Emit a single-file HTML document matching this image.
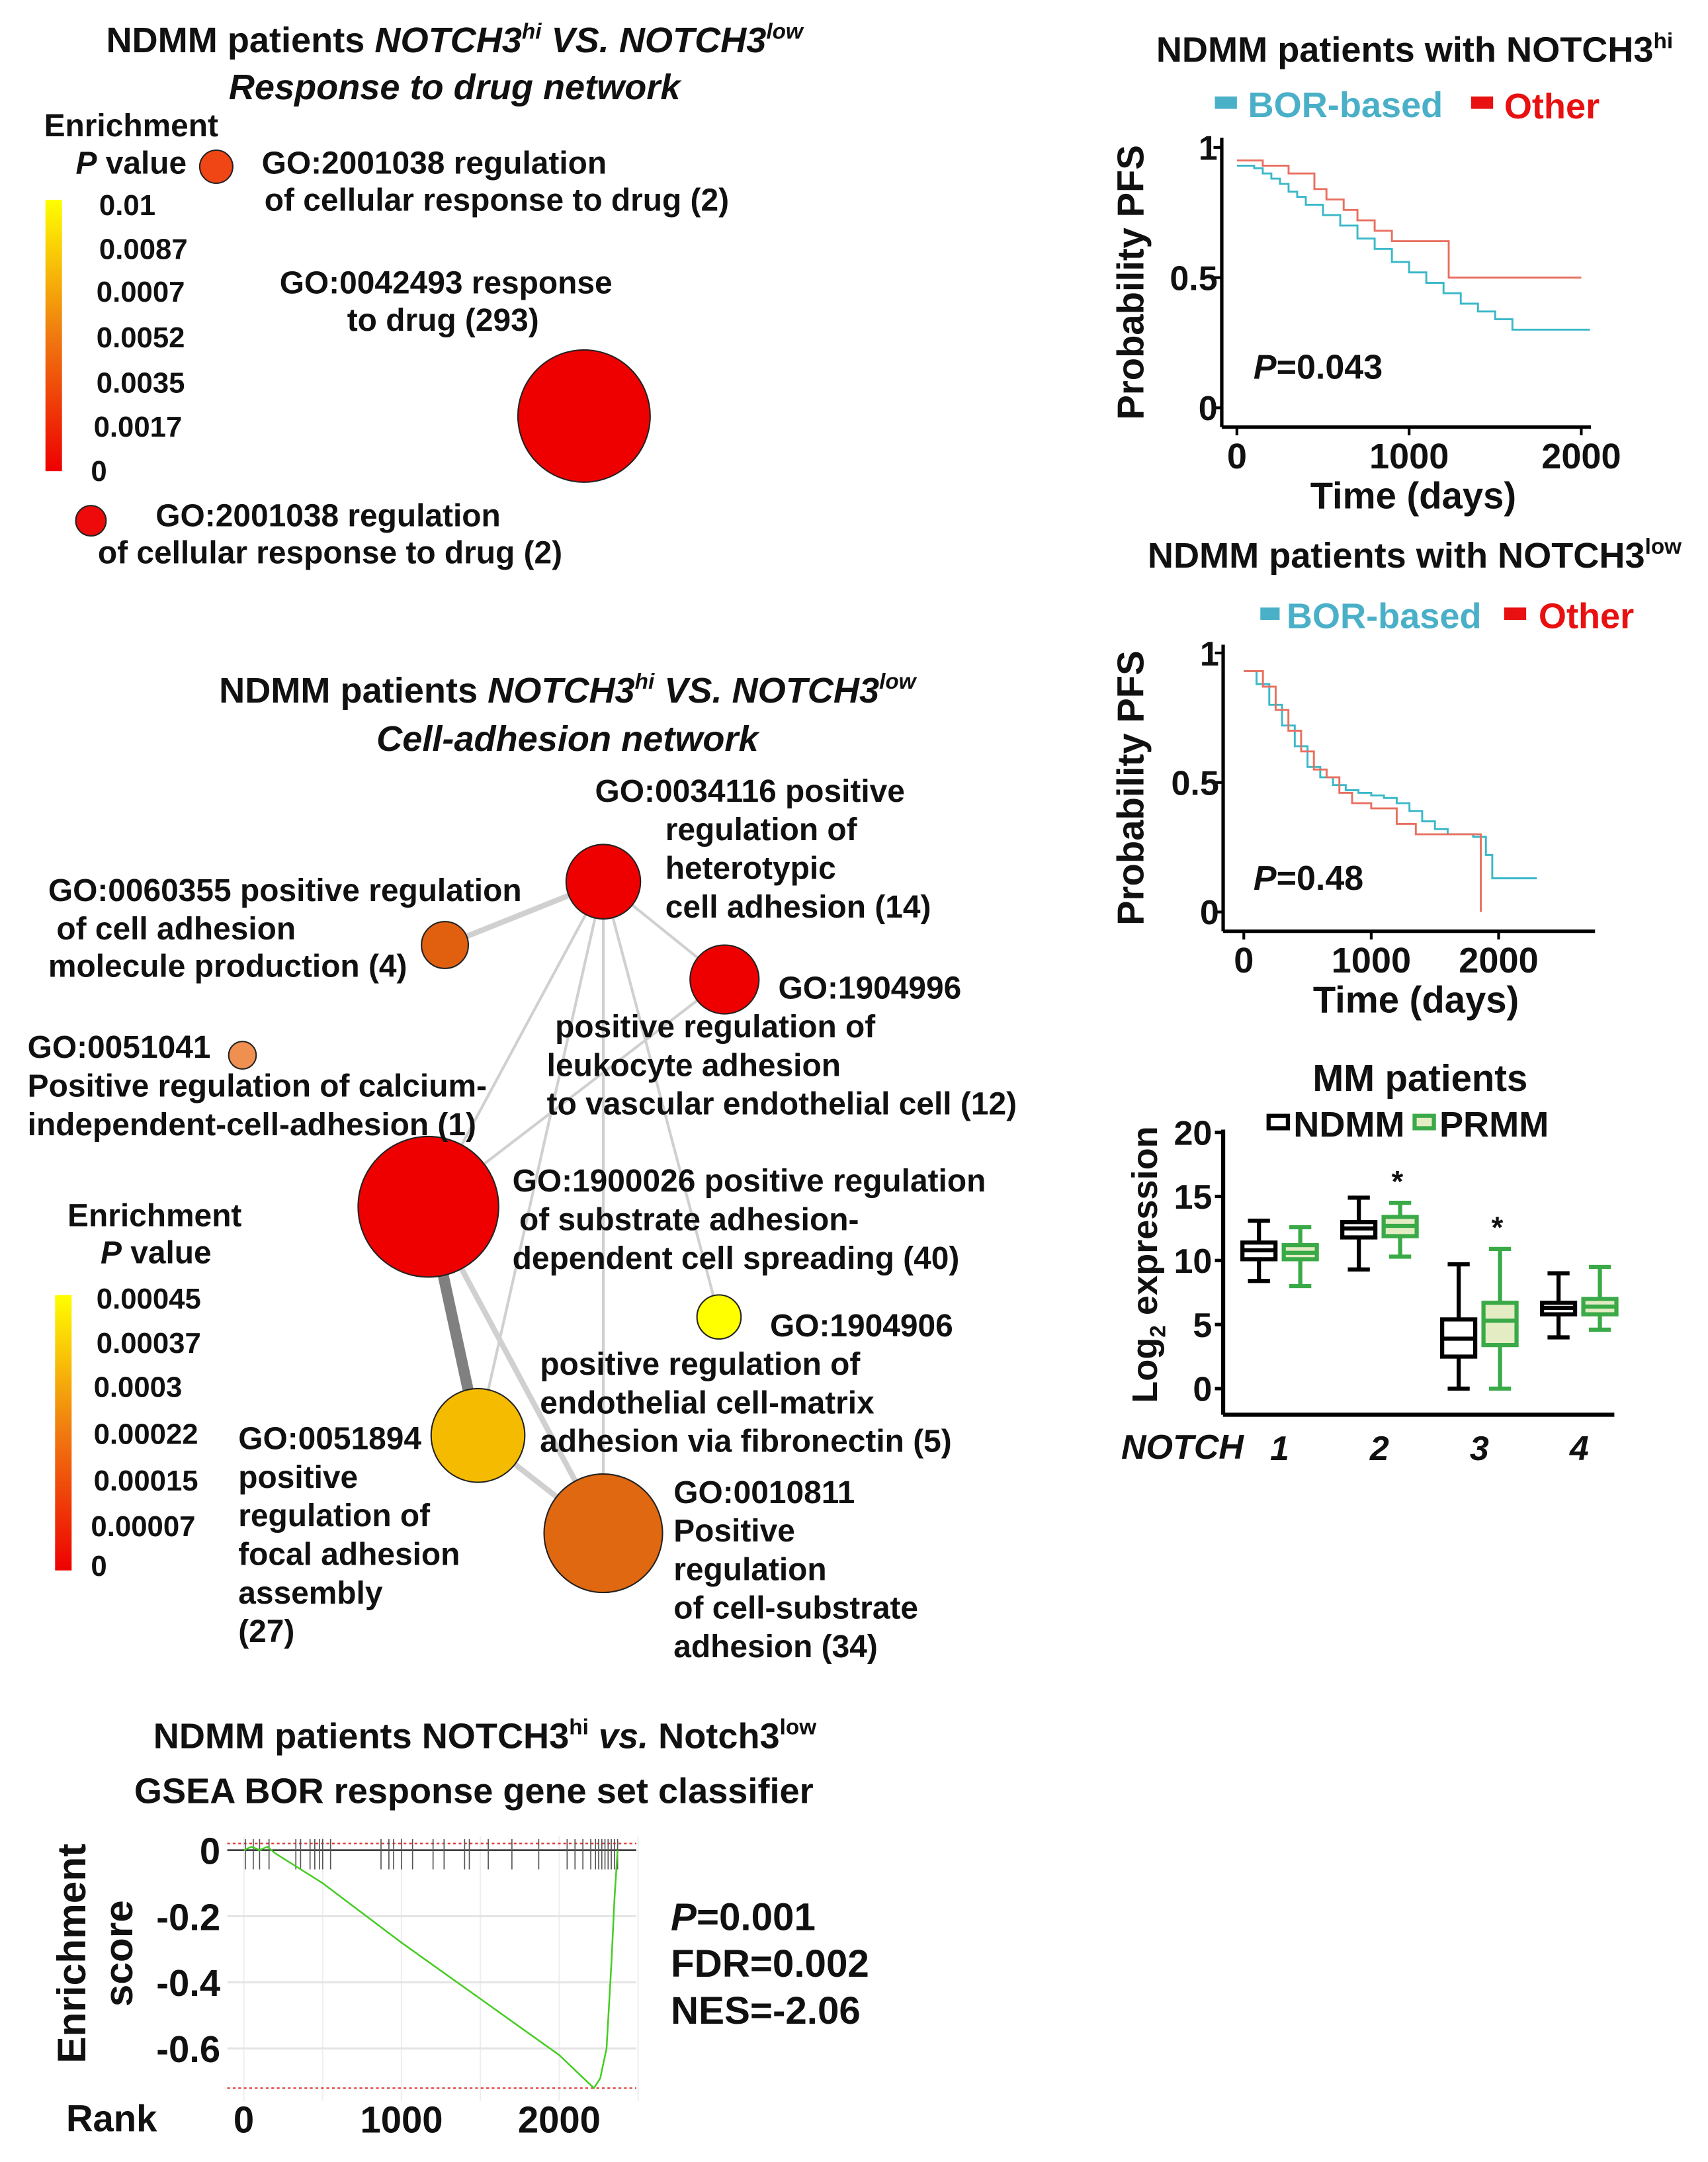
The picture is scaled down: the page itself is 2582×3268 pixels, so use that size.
<!DOCTYPE html>
<html><head><meta charset="utf-8">
<style>
html,body{margin:0;padding:0;background:#fff;}
svg{display:block;}
text{font-family:"Liberation Sans",Arial,sans-serif;font-weight:bold;fill:#111;}
.t{font-size:26px;}
.l{font-size:23px;}
.s{font-size:21px;}
.it{font-style:italic;}
</style></head>
<body>
<svg id="fig" width="2582" height="3268" viewBox="0 0 1240 1569.4" xmlns="http://www.w3.org/2000/svg">
<defs>
<linearGradient id="cb" x1="0" y1="1" x2="0" y2="0">
<stop offset="0" stop-color="#ee0000"/><stop offset="0.5" stop-color="#f07a10"/><stop offset="1" stop-color="#ffff00"/>
</linearGradient>
</defs>

<g>
<text class="t" x="330" y="38" text-anchor="middle">NDMM patients <tspan class="it">NOTCH3</tspan><tspan class="it" font-size="16" dy="-10">hi</tspan><tspan class="it" dy="10"> VS. NOTCH3</tspan><tspan class="it" font-size="16" dy="-10">low</tspan></text>
<text class="t it" x="330" y="72" text-anchor="middle">Response to drug network</text>
<text class="l" x="32" y="99">Enrichment</text>
<text class="l" x="55" y="126"><tspan class="it">P</tspan> value</text>
<rect x="33" y="145" width="12" height="197" fill="url(#cb)"/>
<g class="s">
<text x="72" y="156">0.01</text><text x="72" y="188">0.0087</text><text x="70" y="219">0.0007</text><text x="70" y="252">0.0052</text><text x="70" y="285">0.0035</text><text x="68" y="317">0.0017</text><text x="66" y="349">0</text>
</g>
<circle cx="157" cy="121" r="12" fill="#f04515" stroke="#222"/>
<circle cx="424" cy="302" r="48" fill="#ee0000" stroke="#222"/>
<circle cx="66" cy="378" r="11" fill="#ee0a0a" stroke="#222"/>
<text class="l" x="190" y="126">GO:2001038 regulation</text>
<text class="l" x="192" y="153">of cellular response to drug (2)</text>
<text class="l" x="203" y="213">GO:0042493 response</text>
<text class="l" x="252" y="240">to drug (293)</text>
<text class="l" x="113" y="382">GO:2001038 regulation</text>
<text class="l" x="71" y="409">of cellular response to drug (2)</text>
</g>

<g>
<text class="t" x="412" y="510" text-anchor="middle">NDMM patients <tspan class="it">NOTCH3</tspan><tspan class="it" font-size="16" dy="-10">hi</tspan><tspan class="it" dy="10"> VS. NOTCH3</tspan><tspan class="it" font-size="16" dy="-10">low</tspan></text>
<text class="t it" x="412" y="545" text-anchor="middle">Cell-adhesion network</text>
<g stroke="#d0d0d0" stroke-width="2" fill="none">
<line x1="438" y1="640" x2="323" y2="686" stroke-width="4"/>
<line x1="438" y1="640" x2="526" y2="711"/>
<line x1="438" y1="640" x2="311" y2="876"/>
<line x1="438" y1="640" x2="347" y2="1042"/>
<line x1="438" y1="640" x2="438" y2="1113"/>
<line x1="438" y1="640" x2="522" y2="956"/>
<line x1="526" y1="711" x2="311" y2="876"/>
<line x1="311" y1="876" x2="438" y2="1113" stroke-width="4"/>
<line x1="347" y1="1042" x2="438" y2="1113" stroke-width="4"/>
<line x1="311" y1="876" x2="347" y2="1042" stroke="#808080" stroke-width="8"/>
</g>
<circle cx="438" cy="640" r="27" fill="#ee0000" stroke="#222"/>
<circle cx="323" cy="686" r="17" fill="#e06010" stroke="#222"/>
<circle cx="526" cy="711" r="25" fill="#ee0000" stroke="#222"/>
<circle cx="176" cy="766" r="10" fill="#f09050" stroke="#222"/>
<circle cx="311" cy="876" r="51" fill="#ee0000" stroke="#222"/>
<circle cx="522" cy="956" r="16" fill="#ffff00" stroke="#222"/>
<circle cx="347" cy="1042" r="34" fill="#f5bb00" stroke="#222"/>
<circle cx="438" cy="1113" r="43" fill="#e06810" stroke="#222"/>
<g class="l">
<text x="432" y="582">GO:0034116 positive</text><text x="483" y="610">regulation of</text><text x="483" y="638">heterotypic</text><text x="483" y="666">cell adhesion (14)</text>
<text x="35" y="654">GO:0060355 positive regulation</text><text x="41" y="682">of cell adhesion</text><text x="35" y="709">molecule production (4)</text>
<text x="565" y="725">GO:1904996</text><text x="403" y="753">positive regulation of</text><text x="397" y="781">leukocyte adhesion</text><text x="397" y="809">to vascular endothelial cell (12)</text>
<text x="20" y="768">GO:0051041</text><text x="20" y="796">Positive  regulation of calcium-</text><text x="20" y="824">independent-cell-adhesion (1)</text>
<text x="372" y="865">GO:1900026 positive regulation</text><text x="377" y="893">of substrate adhesion-</text><text x="372" y="921">dependent cell spreading (40)</text>
<text x="559" y="970">GO:1904906</text><text x="392" y="998">positive regulation of</text><text x="392" y="1026">endothelial cell-matrix</text><text x="392" y="1054">adhesion via fibronectin (5)</text>
<text x="173" y="1052">GO:0051894</text><text x="173" y="1080">positive</text><text x="173" y="1108">regulation of</text><text x="173" y="1136">focal adhesion</text><text x="173" y="1164">assembly</text><text x="173" y="1192">(27)</text>
<text x="489" y="1091">GO:0010811</text><text x="489" y="1119">Positive</text><text x="489" y="1147">regulation</text><text x="489" y="1175">of cell-substrate</text><text x="489" y="1203">adhesion (34)</text>
</g>
<text class="l" x="49" y="890">Enrichment</text>
<text class="l" x="73" y="917"><tspan class="it">P</tspan> value</text>
<rect x="40" y="940" width="12" height="200" fill="url(#cb)"/>
<g class="s">
<text x="70" y="950">0.00045</text><text x="70" y="982">0.00037</text><text x="68" y="1014">0.0003</text><text x="68" y="1048">0.00022</text><text x="68" y="1082">0.00015</text><text x="66" y="1115">0.00007</text><text x="66" y="1144">0</text>
</g>
</g>

<g>
<text class="t" x="352" y="1269" text-anchor="middle">NDMM patients NOTCH3<tspan font-size="16" dy="-10">hi</tspan><tspan class="it" dy="10"> vs.</tspan> Notch3<tspan font-size="16" dy="-10">low</tspan></text>
<text class="t" x="344" y="1309" text-anchor="middle">GSEA BOR response gene set classifier</text>
<g id="gsea"></g>
<text transform="translate(62,1418) rotate(-90)" text-anchor="middle" font-size="29">Enrichment</text>
<text transform="translate(96,1418) rotate(-90)" text-anchor="middle" font-size="29">score</text>
<text x="48" y="1547" font-size="27">Rank</text>
<text x="487" y="1401" font-size="28"><tspan class="it">P</tspan>=0.001</text>
<text x="487" y="1435" font-size="28">FDR=0.002</text>
<text x="487" y="1469" font-size="28">NES=-2.06</text>
</g>

<g>
<text class="t" x="1027" y="45" text-anchor="middle">NDMM patients with NOTCH3<tspan font-size="16" dy="-10">hi</tspan></text>
<rect x="882" y="70" width="16" height="9" fill="#4ab0c8"/>
<text class="t" x="906" y="85" style="fill:#4ab0c8">BOR-based</text>
<rect x="1068" y="70" width="16" height="9" fill="#e81010"/>
<text class="t" x="1092" y="86" style="fill:#e81010">Other</text>
<g id="km1"></g>
<text x="910" y="275" font-size="25"><tspan class="it">P</tspan>=0.043</text>
</g>
<g>
<text class="t" x="1027" y="412" text-anchor="middle">NDMM patients with NOTCH3<tspan font-size="16" dy="-10">low</tspan></text>
<rect x="915" y="441" width="14" height="9" fill="#4ab0c8"/>
<text class="t" x="934" y="456" style="fill:#4ab0c8">BOR-based</text>
<rect x="1092" y="441" width="16" height="9" fill="#e81010"/>
<text class="t" x="1117" y="456" style="fill:#e81010">Other</text>
<g id="km2"></g>
<text x="910" y="646" font-size="25"><tspan class="it">P</tspan>=0.48</text>
</g>

<g>
<text x="1031" y="792" text-anchor="middle" font-size="27">MM patients</text>
<rect x="921" y="810" width="14" height="9" fill="#fff" stroke="#000" stroke-width="3"/>
<text x="939" y="825" font-size="26">NDMM</text>
<rect x="1027" y="810" width="14" height="9" fill="#e4ecc4" stroke="#3aaa48" stroke-width="3"/>
<text x="1045" y="825" font-size="26">PRMM</text>
<g id="box"></g>
<text transform="translate(840,918) rotate(-90)" text-anchor="middle" font-size="26">Log<tspan font-size="16" dy="6">2</tspan><tspan dy="-6"> expression</tspan></text>
<text class="it" x="814" y="1059" font-size="25">NOTCH</text>
</g>
</svg>
<script>
const NS='http://www.w3.org/2000/svg';
function mk(p,tag,a,txt){const e=document.createElementNS(NS,tag);for(const k in a)e.setAttribute(k,a[k]);if(txt!==undefined)e.textContent=txt;p.appendChild(e);return e;}

const gseaRank=[0,50,100,150,200,500,1000,1500,2000,2220,2260,2300,2330,2350,2370];
const gseaES=[0,0.01,0,0.01,-0.01,-0.10,-0.28,-0.45,-0.62,-0.72,-0.69,-0.60,-0.35,-0.15,0];
const gseaHits=[10,60,100,160,330,360,420,450,480,500,550,870,920,950,1000,1070,1200,1270,1400,1430,1550,1700,1870,2050,2100,2150,2200,2230,2250,2270,2290,2310,2330,2350,2370];
const gseaYTicks=[0,-0.2,-0.4,-0.6];
const gseaYLabels=['0','-0.2','-0.4','-0.6'];
const gseaXTicks=[0,1000,2000];
const gseaXLabels=['0','1000','2000'];
{
const g=document.getElementById('gsea');
const gx=r=>177+r*0.1145, gy=v=>1343-v*240;
[0,500,1000,1500,2000,2500].forEach(r=>{mk(g,'line',{x1:gx(r),x2:gx(r),y1:1333,y2:1525,stroke:'#eee','stroke-width':1});});
gseaYTicks.forEach((v,i)=>{
  mk(g,'line',{x1:165,x2:462,y1:gy(v),y2:gy(v),stroke:v===0?'#000':'#e4e4e4','stroke-width':v===0?1:1.5});
  const t=mk(g,'text',{x:160,y:gy(v)+10,'text-anchor':'end','font-size':'27'},gseaYLabels[i]);
  
  
});
gseaXTicks.forEach((r,i)=>{
  const t=mk(g,'text',{x:gx(r),y:1548,'text-anchor':'middle','font-size':'27'},gseaXLabels[i]);
  
  
});
const minES=Math.min(...gseaES);
mk(g,'line',{x1:165,x2:462,y1:gy(0.02),y2:gy(0.02),stroke:'#e03030','stroke-dasharray':'2,2','stroke-width':1});
mk(g,'line',{x1:165,x2:462,y1:gy(minES),y2:gy(minES),stroke:'#e03030','stroke-dasharray':'2,2','stroke-width':1});
gseaHits.forEach(r=>{
  const l=mk(g,'line',{x1:gx(r),x2:gx(r),y1:1335,y2:1357,stroke:'#555','stroke-width':0.8});
  
  
});
const c=mk(g,'polyline',{points:gseaRank.map((r,i)=>gx(r)+','+gy(gseaES[i])).join(' '),fill:'none',stroke:'#44cc22','stroke-width':1.2});


}

const km1BorT=[0,100,150,200,250,300,350,400,500,600,700,800,900,1000,1100,1200,1300,1400,1500,1600];
const km1BorS=[0.93,0.92,0.90,0.88,0.86,0.83,0.81,0.78,0.74,0.70,0.65,0.61,0.56,0.52,0.48,0.44,0.40,0.37,0.34,0.30];
const km1BorEnd=2050;
const km1OthT=[0,150,300,450,520,620,700,800,900,1230];
const km1OthS=[0.95,0.93,0.90,0.84,0.80,0.76,0.72,0.68,0.64,0.50];
const km1OthEnd=2000;
const km2BorT=[0,100,200,300,400,500,600,700,800,900,1000,1100,1200,1300,1400,1500,1600,1800,1900,1950];
const km2BorS=[0.93,0.88,0.80,0.72,0.64,0.56,0.52,0.49,0.47,0.46,0.45,0.44,0.42,0.39,0.35,0.32,0.30,0.29,0.22,0.13];
const km2BorEnd=2300;
const km2OthT=[0,150,250,350,450,550,650,750,850,1000,1200,1350,1860];
const km2OthS=[0.93,0.87,0.78,0.70,0.62,0.55,0.52,0.46,0.42,0.40,0.34,0.30,0.0];
const km2OthEnd=1860;
const kmXTicks=[0,1000,2000];
const kmYTicks=[0,0.5,1];
const kmYLabels=['0','0.5','1'];
function km(id,o,series,name){
  const g=document.getElementById(id);
  const X=t=>o.x0+t*o.kx, Y=s=>o.y0-s*o.ky;
  mk(g,'line',{x1:o.ax,x2:o.ax,y1:o.top,y2:o.bot,stroke:'#000','stroke-width':2.5});
  mk(g,'line',{x1:o.ax,x2:o.right,y1:o.bot,y2:o.bot,stroke:'#000','stroke-width':2.5});
  kmYTicks.forEach((v,i)=>{mk(g,'line',{x1:o.ax-6,x2:o.ax,y1:Y(v),y2:Y(v),stroke:'#000','stroke-width':2});
    const t=mk(g,'text',{x:o.ax-3,y:Y(v)+9,'text-anchor':'end','font-size':'25'},kmYLabels[i]);
    
    });
  kmXTicks.forEach(v=>{mk(g,'line',{x1:X(v),x2:X(v),y1:o.bot,y2:o.bot+6,stroke:'#000','stroke-width':2});
    const t=mk(g,'text',{x:X(v),y:o.bot+30,'text-anchor':'middle','font-size':'26'},String(v));
    
    });
  const xt=mk(g,'text',{x:(o.ax+o.right)/2+5,y:o.bot+59,'text-anchor':'middle','font-size':'27'},'Time (days)');
  
  
  const yt=mk(g,'text',{transform:`translate(830,${(o.top+o.bot)/2}) rotate(-90)`,'text-anchor':'middle','font-size':'27'},'Probability PFS');
  
  
  series.forEach(s=>{
    let p=[];const T=s.t,S=s.s;
    for(let i=0;i<T.length;i++){ if(i>0)p.push(X(T[i])+','+Y(S[i-1])); p.push(X(T[i])+','+Y(S[i])); }
    p.push(X(s.end)+','+Y(S[S.length-1]));
    const l=mk(g,'polyline',{points:p.join(' '),fill:'none',stroke:s.c,'stroke-width':1.4});
    
    
  });
}
km('km1',{x0:898,kx:0.125,y0:296,ky:189,ax:887,top:100,bot:310,right:1155},
  [{t:km1BorT,s:km1BorS,end:km1BorEnd,c:'#3ab8c8',n:'bor-curve'},{t:km1OthT,s:km1OthS,end:km1OthEnd,c:'#e87060',n:'other-curve'}],'km-hi');
km('km2',{x0:903,kx:0.0925,y0:662,ky:188,ax:888,top:468,bot:676,right:1158},
  [{t:km2BorT,s:km2BorS,end:km2BorEnd,c:'#3ab8c8',n:'bor-curve'},{t:km2OthT,s:km2OthS,end:km2OthEnd,c:'#e87060',n:'other-curve'}],'km-low');

const boxGenes=['1','2','3','4'];
const ndmmMin=[8.4,9.3,0,4.0], ndmmQ1=[10.1,11.8,2.5,5.8], ndmmMed=[10.8,12.5,3.9,6.3], ndmmQ3=[11.4,13.0,5.4,6.7], ndmmMax=[13.1,14.9,9.7,9.0];
const prmmMin=[8.0,10.3,0,4.6], prmmQ1=[10.1,11.9,3.4,5.8], prmmMed=[10.6,12.7,5.3,6.4], prmmQ3=[11.2,13.4,6.7,7.0], prmmMax=[12.6,14.5,10.9,9.5];
const prmmSig=[false,true,true,false];
const boxYTicks=[0,5,10,15,20];
{
const g=document.getElementById('box');
const Y=v=>1008-v*9.3;
const gxc=i=>929+i*72.5;
mk(g,'line',{x1:888,x2:888,y1:820,y2:1027,stroke:'#000','stroke-width':3});
mk(g,'line',{x1:888,x2:1172,y1:1027,y2:1027,stroke:'#000','stroke-width':3});
boxYTicks.forEach(v=>{mk(g,'line',{x1:882,x2:888,y1:Y(v),y2:Y(v),stroke:'#000','stroke-width':2.5});
  const t=mk(g,'text',{x:880,y:Y(v)+9,'text-anchor':'end','font-size':'25'},String(v));
  
  });
function drawBox(cx,mn,q1,md,q3,mx,stroke,fill,name){
  const w=24,cw=16;
  const b=mk(g,'g',{});
  
  
  mk(b,'line',{x1:cx,x2:cx,y1:Y(mx),y2:Y(mn),stroke:stroke,'stroke-width':3});
  mk(b,'line',{x1:cx-cw/2,x2:cx+cw/2,y1:Y(mx),y2:Y(mx),stroke:stroke,'stroke-width':3});
  mk(b,'line',{x1:cx-cw/2,x2:cx+cw/2,y1:Y(mn),y2:Y(mn),stroke:stroke,'stroke-width':3});
  mk(b,'rect',{x:cx-w/2,y:Y(q3),width:w,height:Y(q1)-Y(q3),fill:fill,stroke:stroke,'stroke-width':3});
  mk(b,'line',{x1:cx-w/2,x2:cx+w/2,y1:Y(md),y2:Y(md),stroke:stroke,'stroke-width':3});
}
boxGenes.forEach((gn,i)=>{
  const c=gxc(i);
  drawBox(c-15,ndmmMin[i],ndmmQ1[i],ndmmMed[i],ndmmQ3[i],ndmmMax[i],'#000','#fff','box-ndmm-notch'+gn);
  drawBox(c+15,prmmMin[i],prmmQ1[i],prmmMed[i],prmmQ3[i],prmmMax[i],'#3aaa48','#e4ecc4','box-prmm-notch'+gn);
  if(prmmSig[i]){const s=mk(g,'text',{x:c+13,y:Y(prmmMax[i])-8,'text-anchor':'middle','font-size':'22'},'*');
    
    }
  const t=mk(g,'text',{x:c,y:1060,'text-anchor':'middle','font-size':'25','font-style':'italic'},gn);
  
  
});
}
</script>
</body></html>
